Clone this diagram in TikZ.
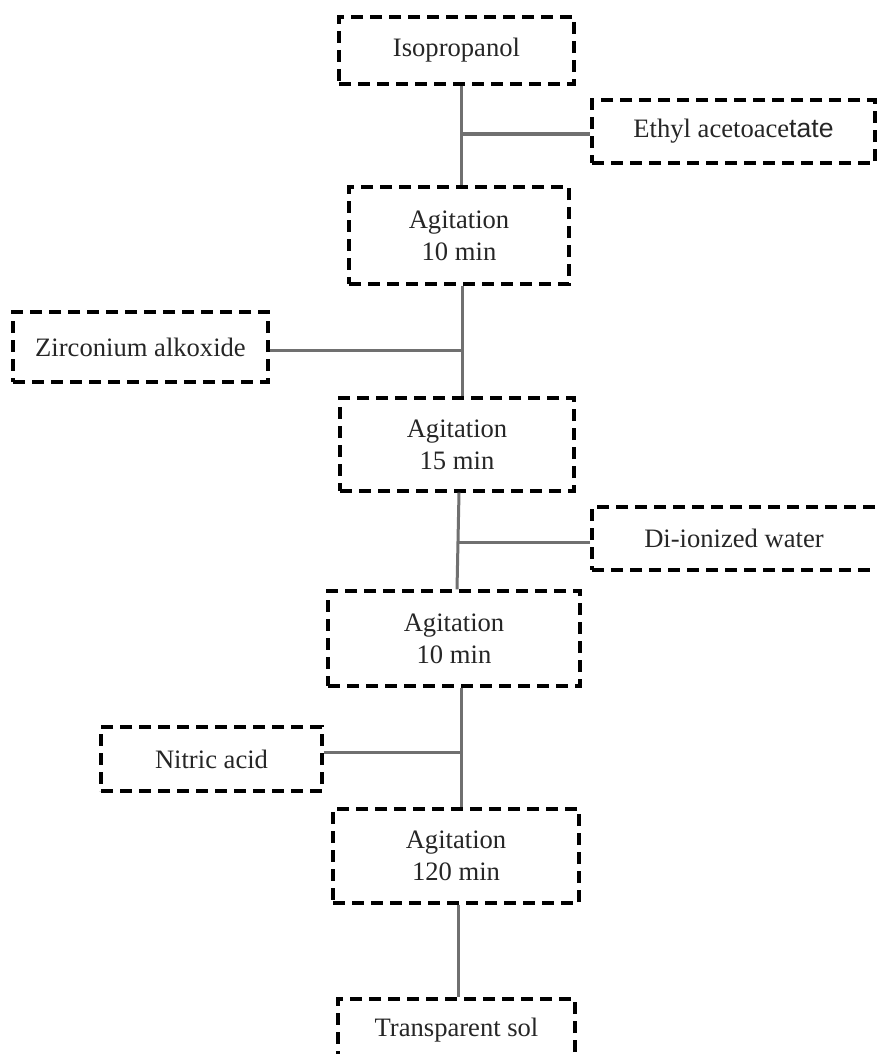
\documentclass[tikz,border=0pt]{standalone}
\usepackage{fontspec}
\setmainfont{Liberation Serif}
\newfontfamily\arialfont{Liberation Sans}
\definecolor{txtgray}{HTML}{262626}
\definecolor{linegray}{HTML}{707070}
\begin{document}
\begin{tikzpicture}[x=1pt,y=-1pt,
  box/.style={draw=black, line width=3.3pt, dash pattern=on 12pt off 7pt,
    rectangle, inner sep=0pt, align=center, text=txtgray,
    font=\fontsize{26.6}{32}\selectfont},
  conn/.style={draw=linegray, line width=3pt}]
\clip (0,0) rectangle (877,1054);
\fill[white] (0,0) rectangle (877,1054);
% boxes
\node[box, minimum width=235pt, minimum height=67pt] (iso) at (456.5,50.5) {Isopropanol};
\node[box, minimum width=283pt, minimum height=63pt] (ethyl) at (733.5,131.5) {Ethyl acetoace{\arialfont tate}};
\node[box, minimum width=220pt, minimum height=97pt] (ag1) at (459,235.5) {Agitation\\10 min};
\node[box, minimum width=255pt, minimum height=70pt] (zr) at (140.5,347) {Zirconium alkoxide};
\node[box, minimum width=234pt, minimum height=93pt] (ag2) at (457,444.5) {Agitation\\15 min};
\node[box, minimum width=300pt, minimum height=63pt] (di) at (742,538.5) {\hspace*{-8pt}Di-ionized water\hspace*{8pt}};
\node[box, minimum width=252pt, minimum height=95pt] (ag3) at (454,638.5) {Agitation\\10 min};
\node[box, minimum width=221pt, minimum height=64pt] (nit) at (211.5,759) {Nitric acid};
\node[box, minimum width=246pt, minimum height=94pt] (ag4) at (456,856) {Agitation\\120 min};
\node[box, minimum width=237pt, minimum height=63pt] (ts) at (456.5,1030.5) {Transparent sol};
% junctions
\coordinate (j1) at (461,134);
\coordinate (j2) at (462,350);
\coordinate (j3) at (458,542);
\coordinate (j4) at (461,752);
\coordinate (t3) at (459,0);
\coordinate (b3) at (457,0);
\coordinate (j5) at (458,0);
% connectors
\draw[conn] (iso.south -| j1) -- (ag1.north -| j1);
\draw[conn] (j1) -- (ethyl.west |- j1);
\draw[conn] (ag1.south -| j2) -- (ag2.north -| j2);
\draw[conn] (zr.east |- j2) -- (j2);
\draw[conn] (ag2.south -| t3) -- (ag3.north -| b3);
\draw[conn] (j3) -- (di.west |- j3);
\draw[conn] (ag3.south -| j4) -- (ag4.north -| j4);
\draw[conn] (nit.east |- j4) -- (j4);
\draw[conn] (ag4.south -| j5) -- (ts.north -| j5);
\end{tikzpicture}
\end{document}
